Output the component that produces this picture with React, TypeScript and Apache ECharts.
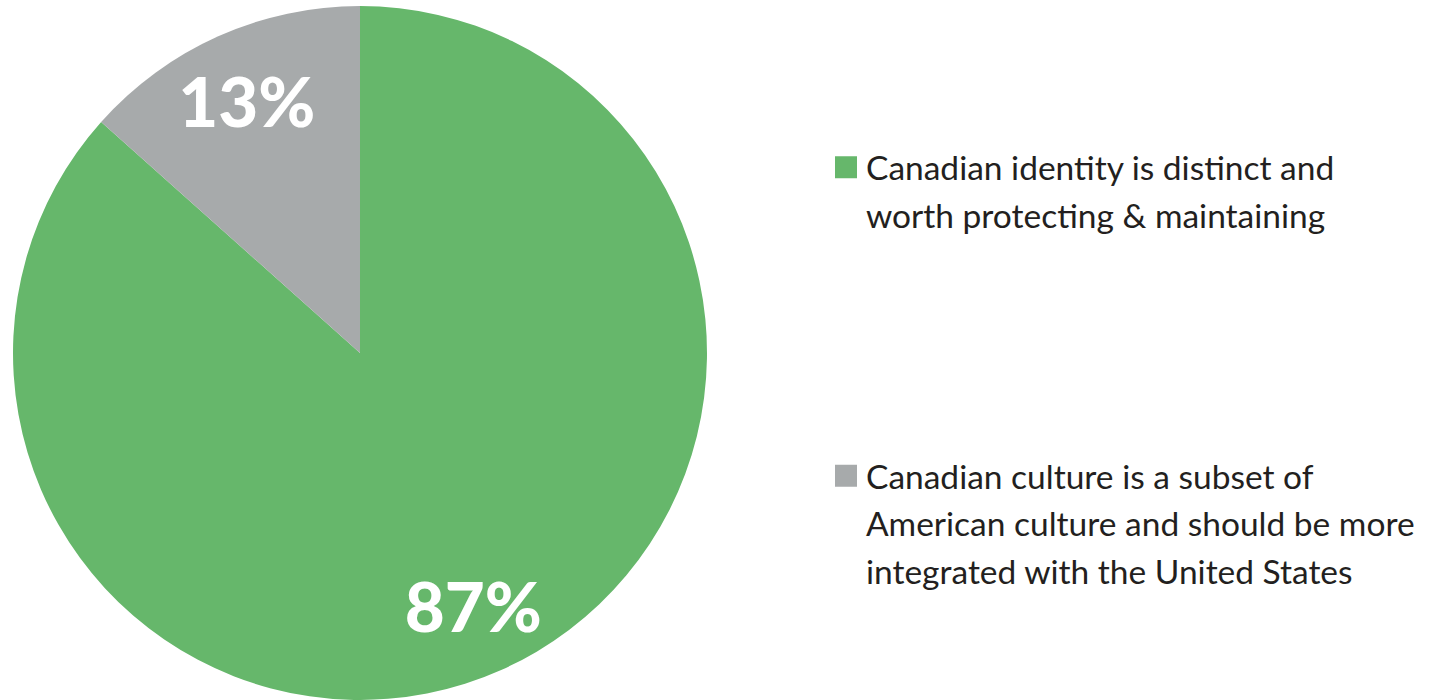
import React, { useEffect, useRef } from "react";
import * as echarts from "echarts";

const categories = [
  "Canadian identity is distinct and worth protecting & maintaining",
  "Canadian culture is a subset of American culture and should be more integrated with the United States",
];
// slice shares as drawn (labels are rounded: 87% / 13%)
const values = [86.6, 13.4];
const colors = ["#66b76b", "#a7aaab"];
const legendLines = [
  ["Canadian identity is distinct and", "worth protecting & maintaining"],
  ["Canadian culture is a subset of", "American culture and should be more", "integrated with the United States"],
];

const FONT = "Lato";
const LINE_H = 47.5;

export default function App() {
  const ref = useRef<HTMLDivElement>(null);
  useEffect(() => {
    if (!ref.current) return;
    const chart = echarts.init(ref.current, undefined, { renderer: "svg" });
    const data = categories.map((name, i) => ({
      name,
      value: values[i],
      itemStyle: { color: colors[i] },
    }));
    const legendTops = [96, 357];
    const legendLeft = 835;
    const legends = categories.map((name, i) => {
      const lines = legendLines[i];
      // blank lines before so that the first line sits level with the icon
      const padded = [...lines.slice(1).map(() => ""), ...lines];
      return {
        show: true,
        data: [name],
        left: legendLeft,
        top: legendTops[i],
        padding: 0,
        orient: "vertical",
        itemWidth: 22,
        itemHeight: 22,
        icon: "rect",
        selectedMode: false,
        formatter: () => padded.join("\n"),
        textStyle: {
          fontFamily: FONT,
          fontSize: 33.5,
          color: "#231f20",
          lineHeight: LINE_H,
          padding: [0, 0, 0, 4],
        },
      };
    });
    chart.setOption({
      animation: false,
      backgroundColor: "#ffffff",
      legend: legends,
      series: [
        {
          type: "pie",
          center: [360, 353],
          radius: 347,
          startAngle: 90,
          clockwise: true,
          silent: true,
          label: { show: false },
          labelLine: { show: false },
          itemStyle: { borderWidth: 0 },
          data,
        },
        {
          type: "pie",
          center: [360, 353],
          radius: [0.58 * 347, 347],
          startAngle: 90,
          clockwise: true,
          silent: true,
          itemStyle: { color: "transparent", borderWidth: 0 },
          labelLine: { show: false },
          label: {
            show: true,
            position: "inside",
            formatter: (p: any) => `${Math.round(p.value)}%`,
            color: "#ffffff",
            fontFamily: FONT,
            fontWeight: 900,
            fontSize: 69,
          },
          data: categories.map((name, i) => ({ name, value: values[i] })),
        },
      ],
    });
    return () => chart.dispose();
  }, []);
  return (
    <div
      ref={ref}
      style={{ position: "absolute", left: 0, top: 0, width: 1452, height: 700 }}
    />
  );
}
